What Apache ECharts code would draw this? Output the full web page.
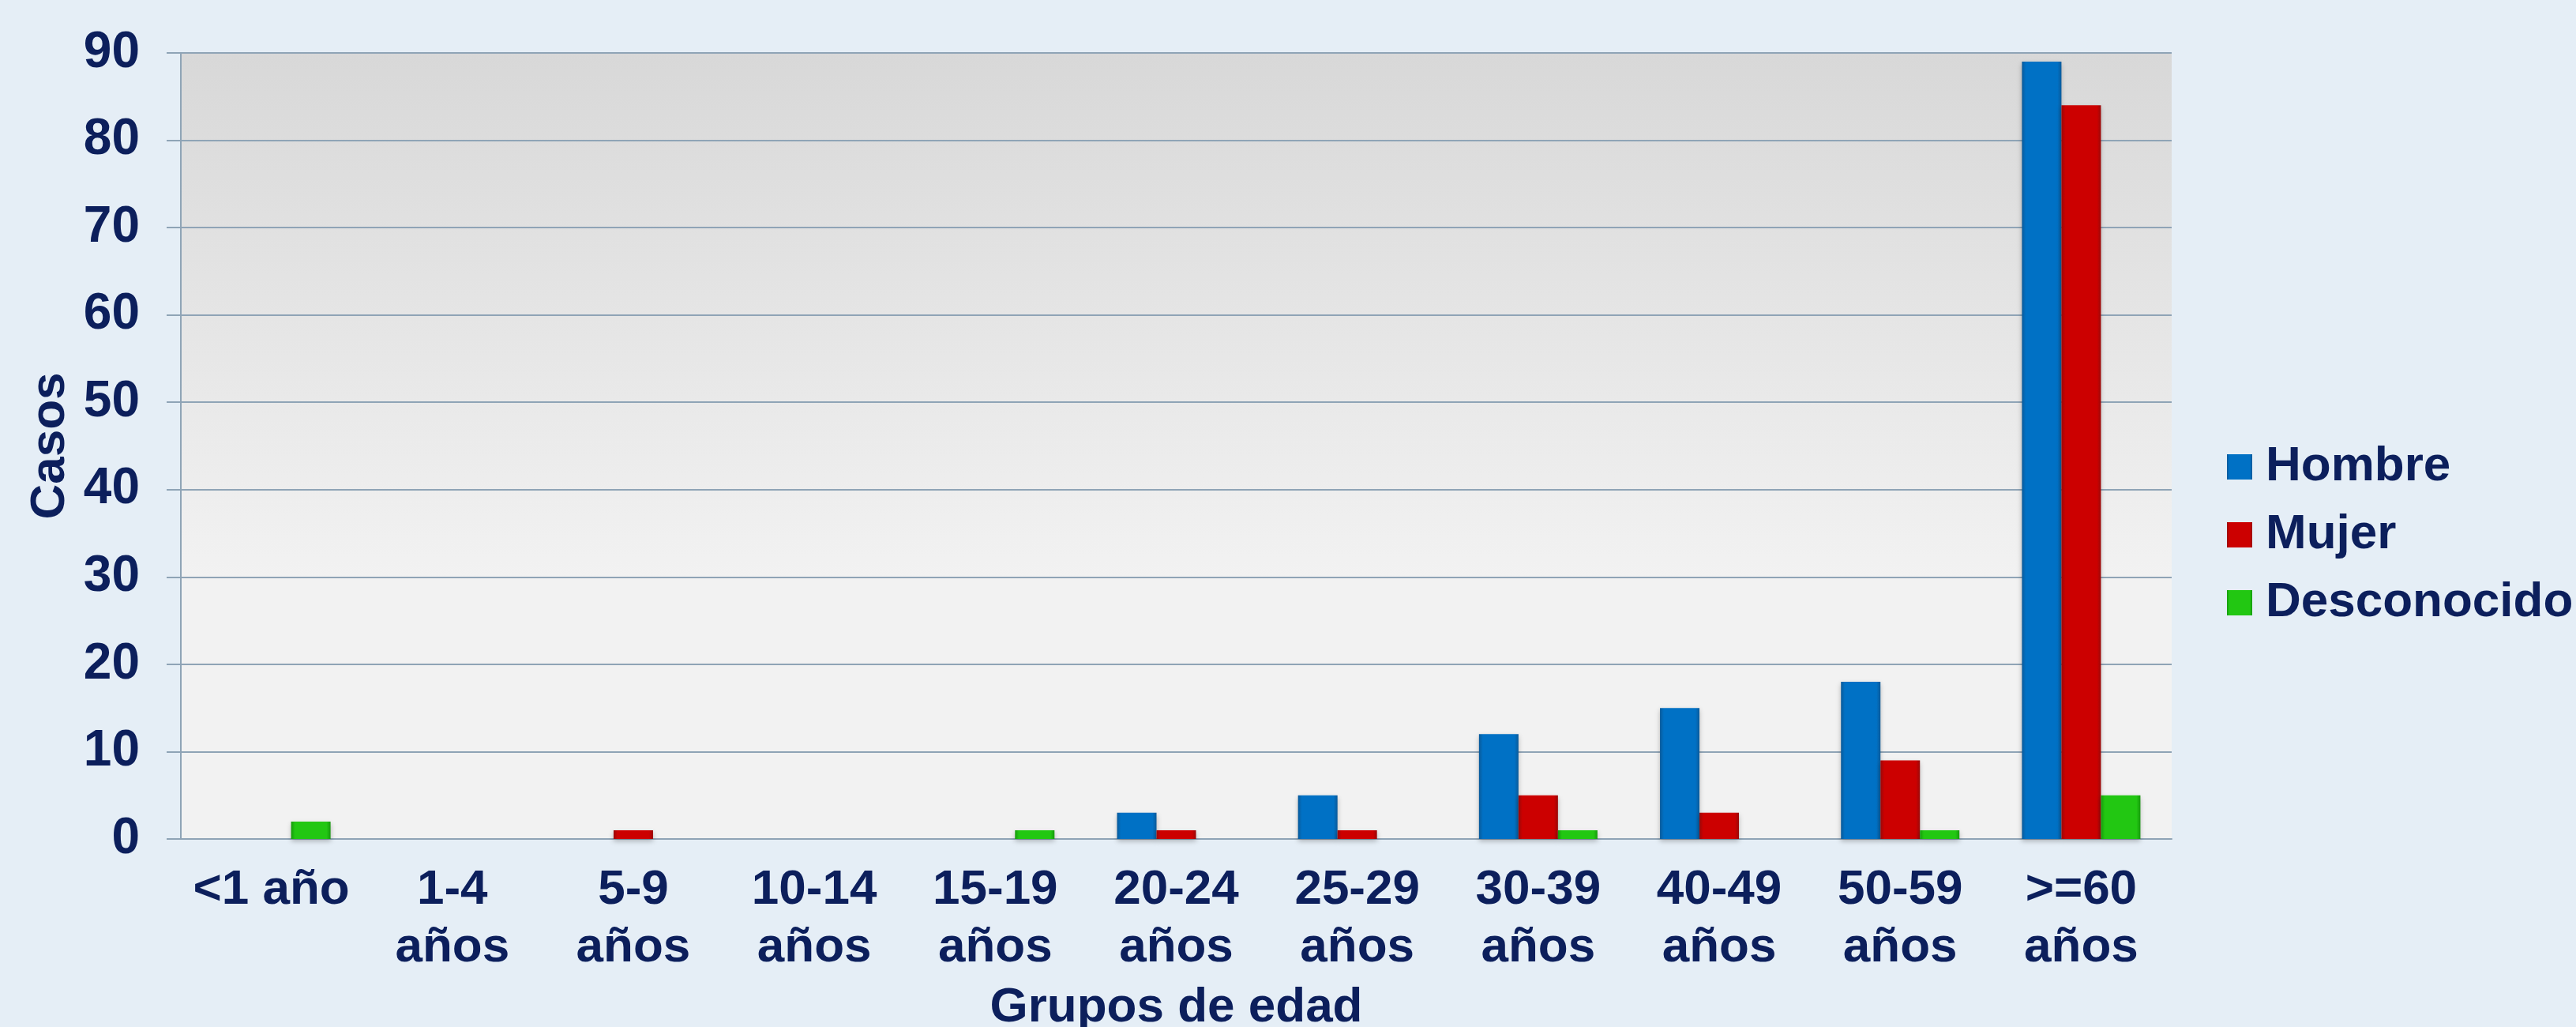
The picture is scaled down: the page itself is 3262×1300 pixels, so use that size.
<!DOCTYPE html>
<html>
<head>
<meta charset="utf-8">
<script src="https://cdn.jsdelivr.net/npm/echarts@6/dist/echarts.min.js"></script>
<style>
  html, body { margin: 0; padding: 0; background: #e5eef6; }
  #chart { width: 3262px; height: 1300px; }
</style>
</head>
<body>
<div id="chart"></div>
<script>
// categorías de edad
const grupos = ['<1 año', '1-4\naños', '5-9\naños', '10-14\naños', '15-19\naños', '20-24\naños',
  '25-29\naños', '30-39\naños', '40-49\naños', '50-59\naños', '>=60\naños'];
// casos por sexo
const hombre = [0, 0, 0, 0, 0, 3, 5, 12, 15, 18, 89];
const mujer = [0, 0, 1, 0, 0, 1, 1, 5, 3, 9, 84];
const desconocido = [2, 0, 0, 0, 1, 0, 0, 1, 0, 1, 5];

const navy = '#0c1f5c';
const font = '"Liberation Sans", Arial, sans-serif';
const lineCol = '#8fa4b6';

let myChart = echarts.init(document.getElementById('chart'));

function barSerie(name, data, color, border) {
  return {
    name: name,
    type: 'bar',
    data: data,
    barWidth: 50,
    barGap: '0%',
    itemStyle: {
      color: new echarts.graphic.LinearGradient(0, 0, 1, 0, [
        { offset: 0, color: border },
        { offset: 0.1, color: color },
        { offset: 0.9, color: color },
        { offset: 1, color: border }
      ]),
      borderWidth: 0,
      shadowColor: 'rgba(0,0,0,0.25)',
      shadowBlur: 6,
      shadowOffsetY: 3
    }
  };
}

let option = {
  backgroundColor: '#e5eef6',
  animation: false,
  textStyle: { fontFamily: font },
  grid: {
    left: 229, right: 512, top: 67, bottom: 238,
    outerBoundsMode: 'none',
    containLabel: false,
    show: true,
    borderWidth: 0,
    backgroundColor: new echarts.graphic.LinearGradient(0, 0, 0, 1, [
      { offset: 0, color: '#d8d8d8' },
      { offset: 0.67, color: '#f2f2f2' },
      { offset: 1, color: '#f2f2f2' }
    ])
  },
  legend: {
    orient: 'vertical',
    left: 2815,
    top: 555,
    itemWidth: 32,
    itemHeight: 32,
    itemGap: 24,
    icon: 'rect',
    textStyle: { color: navy, fontSize: 62, fontWeight: 'bold', fontFamily: font, padding: [0, 0, 0, 12] },
    data: ['Hombre', 'Mujer', 'Desconocido']
  },
  xAxis: {
    type: 'category',
    data: grupos,
    name: 'Grupos de edad',
    nameLocation: 'middle',
    nameGap: 183,
    nameTextStyle: { color: navy, fontSize: 62, fontWeight: 'bold', fontFamily: font },
    axisLine: { lineStyle: { color: lineCol, width: 2 } },
    axisTick: { length: 18, lineStyle: { color: lineCol, width: 2 } },
    axisLabel: {
      interval: 0,
      margin: 28,
      color: navy,
      fontSize: 62,
      fontWeight: 'bold',
      fontFamily: font,
      lineHeight: 73
    }
  },
  yAxis: {
    type: 'value',
    min: 0,
    max: 90,
    interval: 10,
    name: 'Casos',
    nameLocation: 'middle',
    nameRotate: 90,
    nameGap: 132,
    nameTextStyle: { color: navy, fontSize: 62, fontWeight: 'bold', fontFamily: font },
    axisLine: { show: true, lineStyle: { color: lineCol, width: 2 } },
    axisTick: { show: true, length: 18, lineStyle: { color: lineCol, width: 2 } },
    axisLabel: { margin: 52, color: navy, fontSize: 64, fontWeight: 'bold', fontFamily: font },
    splitLine: { lineStyle: { color: lineCol, width: 2 } }
  },
  series: [
    barSerie('Hombre', hombre, '#0071c5', '#0a5a9a'),
    barSerie('Mujer', mujer, '#cc0000', '#9a0808'),
    barSerie('Desconocido', desconocido, '#22c712', '#169a0c')
  ]
};

myChart.setOption(option);
</script>
</body>
</html>
